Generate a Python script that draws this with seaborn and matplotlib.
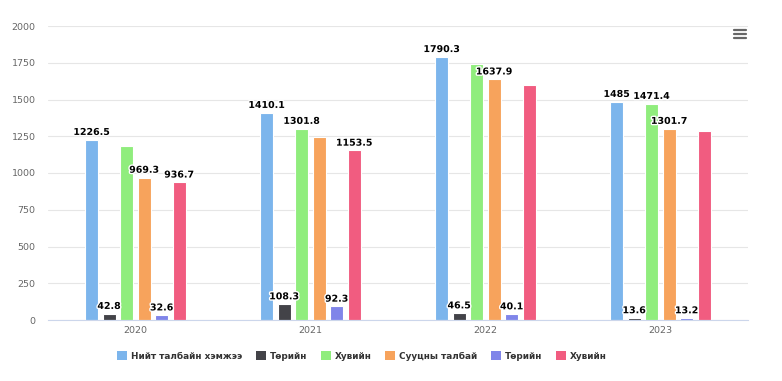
import pandas as pd
import numpy as np
import seaborn as sns
import matplotlib.pyplot as plt
import matplotlib.patheffects as pe
from matplotlib.lines import Line2D
from matplotlib.patches import Patch

years = ['2020', '2021', '2022', '2023']
series_names = ['Нийт талбайн хэмжээ', 'Төрийн', 'Хувийн', 'Сууцны талбай', 'Төрийн', 'Хувийн']
colors = ['#7cb5ec', '#434348', '#90ed7d', '#f7a35c', '#8085e9', '#f15c80']

niit = [1226.5, 1410.1, 1790.3, 1485]
torijn_1 = [42.8, 108.3, 46.5, 13.6]
huvijn_1 = [1183.7, 1301.8, 1743.8, 1471.4]
suucny = [969.3, 1245.8, 1637.9, 1301.7]
torijn_2 = [32.6, 92.3, 40.1, 13.2]
huvijn_2 = [936.7, 1153.5, 1597.8, 1288.5]

# which data labels are visible in the original (overlapping ones were hidden)
show_label = [
    [1, 1, 1, 1],
    [1, 1, 1, 1],
    [0, 1, 0, 1],
    [1, 0, 1, 1],
    [1, 1, 1, 1],
    [1, 1, 0, 0],
]

all_values = [niit, torijn_1, huvijn_1, suucny, torijn_2, huvijn_2]
rows = []
for i, vals in enumerate(all_values):
    for year, v in zip(years, vals):
        rows.append({'year': year, 'series': 's%d' % i, 'value': v})
df = pd.DataFrame(rows)

sns.set_style('white')
plt.rcParams['font.family'] = ['DejaVu Sans']

fig = plt.figure(figsize=(7.82, 3.81), dpi=100)
ax = fig.add_axes([48 / 782, 1 - 320 / 381, 700 / 782, 294 / 381])

sns.barplot(data=df, x='year', y='value', hue='series', palette=colors,
            saturation=1, width=0.6, gap=0.25, edgecolor='white', linewidth=0.8,
            legend=False, ax=ax)

for i, cont in enumerate(ax.containers):
    labels = ['%g' % v if s else '' for v, s in zip(all_values[i], show_label[i])]
    ax.bar_label(cont, labels=labels, padding=2, fontsize=6.8, fontweight='bold',
                 color='black',
                 path_effects=[pe.withStroke(linewidth=2, foreground='white')])

ax.set_ylim(0, 2000)
ax.set_xlim(-0.5, 3.5)
ax.set_yticks(np.arange(0, 2001, 250))
ax.grid(axis='y', color='#e6e6e6', linewidth=0.8)
ax.set_axisbelow(True)
ax.set_xlabel('')
ax.set_ylabel('')
for side in ['top', 'right', 'left']:
    ax.spines[side].set_visible(False)
ax.spines['bottom'].set_color('#ccd6eb')
ax.tick_params(axis='y', length=0, labelsize=6.8, labelcolor='#666666', pad=9)
ax.tick_params(axis='x', which='major', length=0, labelsize=6.8, labelcolor='#666666', pad=4)
ax.set_xticks([-0.5, 0.5, 1.5, 2.5, 3.5], minor=True)
ax.tick_params(axis='x', which='minor', length=7, color='#ccd6eb', width=0.8)

handles = [Patch(facecolor=c, edgecolor='none') for c in colors]
leg = fig.legend(handles, series_names, loc='center', bbox_to_anchor=(362 / 782, 1 - 356 / 381),
                 ncol=6, frameon=False, fontsize=6.4, handlelength=1.15, handleheight=1.15,
                 handletextpad=0.45, columnspacing=1.5, borderpad=0)
for t in leg.get_texts():
    t.set_fontweight('bold')
    t.set_color('#333333')

# context menu icon
for yy in [30, 34, 38]:
    fig.add_artist(Line2D([734 / 782, 746 / 782], [1 - yy / 381, 1 - yy / 381],
                          color='#666666', linewidth=1.6))

fig.savefig('out.png', dpi=100)
